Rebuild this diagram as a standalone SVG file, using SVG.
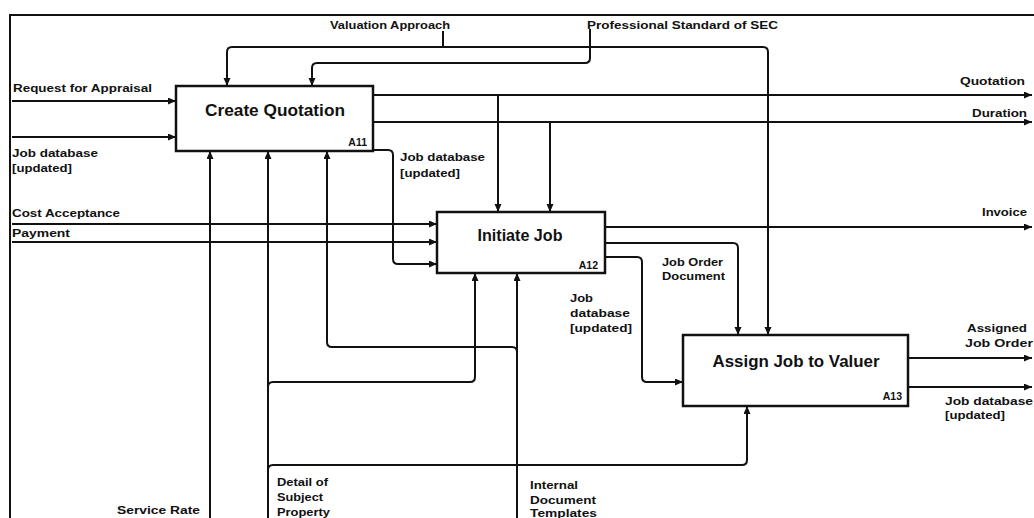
<svg xmlns="http://www.w3.org/2000/svg" width="1034" height="518" viewBox="0 0 1034 518">
  <defs>
    <marker id="arrow" markerUnits="userSpaceOnUse" markerWidth="9" markerHeight="8" refX="8" refY="3.5" orient="auto">
      <path d="M0,0 L8,3.5 L0,7 z" fill="#111"/>
    </marker>
    <style>
      .frame { fill: none; stroke: #111; stroke-width: 2; }
      .box { fill: #fff; stroke: #111; stroke-width: 2.5; }
      .wire { fill: none; stroke: #111; stroke-width: 2; }
      .arr { marker-end: url(#arrow); }
      .lbl { font-family: "Liberation Sans", Arial, sans-serif; font-weight: bold; font-size: 11.5px; fill: #111; }
      .title { font-family: "Liberation Sans", Arial, sans-serif; font-weight: bold; font-size: 17px; fill: #111; text-anchor: middle; }
      .code { font-family: "Liberation Sans", Arial, sans-serif; font-weight: bold; font-size: 10.5px; fill: #111; text-anchor: end; }
    </style>
  </defs>

  <rect width="1034" height="518" fill="#fff"/>

  <!-- diagram frame -->
  <path class="frame" d="M10,518 V15 H1034"/>

  <!-- connectors -->
  <g id="connectors">
    <!-- inputs to A11 -->
    <path class="wire arr" d="M12,101 H176"/>
    <path class="wire arr" d="M12,137 H176"/>
    <!-- Valuation Approach -> A11 and A13 -->
    <path class="wire arr" d="M443,31 V47 H232 Q227,47 227,52 V86"/>
    <path class="wire arr" d="M443,47 H763 Q768,47 768,52 V335"/>
    <!-- Professional Standard of SEC -> A11 -->
    <path class="wire arr" d="M590,29 V58 Q590,63 585,63 H317 Q312,63 312,68 V86"/>
    <!-- A11 outputs -->
    <path class="wire arr" d="M373,95 H1032"/>
    <path class="wire arr" d="M498,95 V212"/>
    <path class="wire arr" d="M373,122 H1032"/>
    <path class="wire arr" d="M550,122 V212"/>
    <path class="wire arr" d="M373,150 H388 Q393,150 393,155 V259 Q393,264 398,264 H437"/>
    <!-- inputs to A12 -->
    <path class="wire arr" d="M12,224 H437"/>
    <path class="wire arr" d="M12,242 H437"/>
    <!-- A12 outputs -->
    <path class="wire arr" d="M605,227 H1032"/>
    <path class="wire arr" d="M605,243 H733 Q738,243 738,248 V335"/>
    <path class="wire arr" d="M605,257 H637 Q642,257 642,262 V377 Q642,382 647,382 H683"/>
    <!-- A13 outputs -->
    <path class="wire arr" d="M908,358 H1032"/>
    <path class="wire arr" d="M908,387 H1032"/>
    <!-- mechanisms from below -->
    <path class="wire arr" d="M210,518 V151"/>
    <path class="wire arr" d="M268,518 V151"/>
    <path class="wire arr" d="M268,387 Q268,382 273,382 H470 Q475,382 475,377 V273"/>
    <path class="wire arr" d="M268,470 Q268,465 273,465 H742 Q747,465 747,460 V406"/>
    <path class="wire arr" d="M517,518 V273"/>
    <path class="wire arr" d="M517,352 Q517,347 512,347 H332 Q327,347 327,342 V151"/>
  </g>

  <!-- activity boxes -->
  <g id="node-a11">
    <rect class="box" x="176" y="86" width="197" height="65"/>
    <text class="title" x="275" y="116" textLength="140" lengthAdjust="spacingAndGlyphs">Create Quotation</text>
    <text class="code" x="367" y="146">A11</text>
  </g>
  <g id="node-a12">
    <rect class="box" x="437" y="212" width="168" height="61"/>
    <text class="title" x="520" y="241" textLength="85" lengthAdjust="spacingAndGlyphs">Initiate Job</text>
    <text class="code" x="598" y="269">A12</text>
  </g>
  <g id="node-a13">
    <rect class="box" x="683" y="335" width="225" height="71"/>
    <text class="title" x="796" y="367" textLength="167" lengthAdjust="spacingAndGlyphs">Assign Job to Valuer</text>
    <text class="code" x="902" y="400">A13</text>
  </g>

  <!-- arrow labels -->
  <g id="labels">
    <text class="lbl" x="330" y="29" textLength="120" lengthAdjust="spacingAndGlyphs">Valuation Approach</text>
    <text class="lbl" x="587" y="29" textLength="191" lengthAdjust="spacingAndGlyphs">Professional Standard of SEC</text>
    <text class="lbl" x="13" y="92" textLength="139" lengthAdjust="spacingAndGlyphs">Request for Appraisal</text>
    <text class="lbl" x="12" y="157" textLength="86" lengthAdjust="spacingAndGlyphs">Job database</text>
    <text class="lbl" x="12" y="172" textLength="60" lengthAdjust="spacingAndGlyphs">[updated]</text>
    <text class="lbl" x="960" y="85" textLength="65" lengthAdjust="spacingAndGlyphs">Quotation</text>
    <text class="lbl" x="972" y="117" textLength="55" lengthAdjust="spacingAndGlyphs">Duration</text>
    <text class="lbl" x="400" y="161" textLength="85" lengthAdjust="spacingAndGlyphs">Job database</text>
    <text class="lbl" x="400" y="177" textLength="60" lengthAdjust="spacingAndGlyphs">[updated]</text>
    <text class="lbl" x="12" y="217" textLength="108" lengthAdjust="spacingAndGlyphs">Cost Acceptance</text>
    <text class="lbl" x="12" y="237" textLength="58" lengthAdjust="spacingAndGlyphs">Payment</text>
    <text class="lbl" x="982" y="216" textLength="45" lengthAdjust="spacingAndGlyphs">Invoice</text>
    <text class="lbl" x="662" y="266" textLength="61" lengthAdjust="spacingAndGlyphs">Job Order</text>
    <text class="lbl" x="662" y="280" textLength="63" lengthAdjust="spacingAndGlyphs">Document</text>
    <text class="lbl" x="570" y="302" textLength="23" lengthAdjust="spacingAndGlyphs">Job</text>
    <text class="lbl" x="570" y="317" textLength="60" lengthAdjust="spacingAndGlyphs">database</text>
    <text class="lbl" x="570" y="332" textLength="62" lengthAdjust="spacingAndGlyphs">[updated]</text>
    <text class="lbl" x="967" y="332" textLength="60" lengthAdjust="spacingAndGlyphs">Assigned</text>
    <text class="lbl" x="965" y="347" textLength="68" lengthAdjust="spacingAndGlyphs">Job Order</text>
    <text class="lbl" x="945" y="405" textLength="88" lengthAdjust="spacingAndGlyphs">Job database</text>
    <text class="lbl" x="945" y="419" textLength="60" lengthAdjust="spacingAndGlyphs">[updated]</text>
    <text class="lbl" x="117" y="514" textLength="83" lengthAdjust="spacingAndGlyphs">Service Rate</text>
    <text class="lbl" x="277" y="486" textLength="51" lengthAdjust="spacingAndGlyphs">Detail of</text>
    <text class="lbl" x="277" y="501" textLength="46" lengthAdjust="spacingAndGlyphs">Subject</text>
    <text class="lbl" x="277" y="516" textLength="53" lengthAdjust="spacingAndGlyphs">Property</text>
    <text class="lbl" x="530" y="489" textLength="48" lengthAdjust="spacingAndGlyphs">Internal</text>
    <text class="lbl" x="530" y="504" textLength="66" lengthAdjust="spacingAndGlyphs">Document</text>
    <text class="lbl" x="530" y="517" textLength="67" lengthAdjust="spacingAndGlyphs">Templates</text>
  </g>
</svg>
